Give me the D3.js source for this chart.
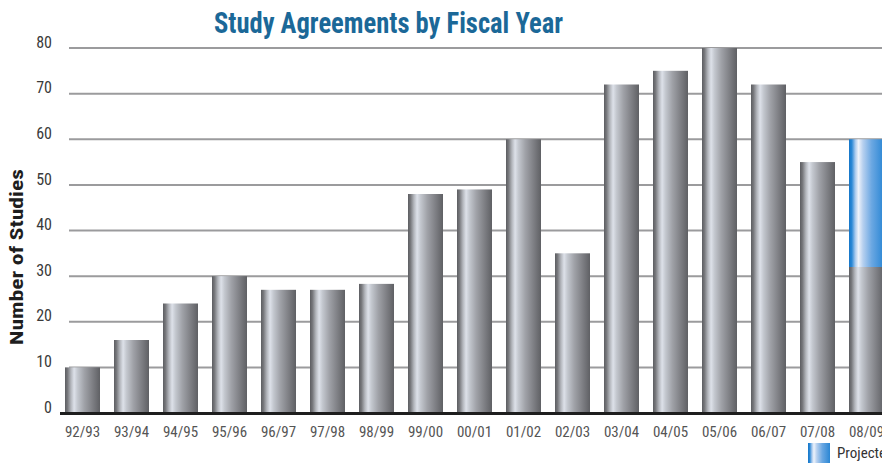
<!DOCTYPE html>
<html>
<head>
<meta charset="utf-8">
<script src="https://cdn.jsdelivr.net/npm/d3@7"></script>
<style>
  html, body { margin: 0; padding: 0; background: #fff; overflow: hidden; }
  svg { display: block; }
</style>
</head>
<body>
<svg id="chart" width="882" height="463"></svg>
<script>
// Fiscal years and study agreement counts
const fiscalYears = ["92/93","93/94","94/95","95/96","96/97","97/98","98/99","99/00","00/01",
                     "01/02","02/03","03/04","04/05","05/06","06/07","07/08","08/09"];
const completed   = [10, 16, 24, 30, 27, 27, 28.3, 48, 49, 60, 35, 72, 75, 80, 72, 55, 32];
const projected   = [0, 0, 0, 0, 0, 0, 0, 0, 0, 0, 0, 0, 0, 0, 0, 0, 28];
const yTicks      = [0, 10, 20, 30, 40, 50, 60, 70, 80];

const condensed = "'Liberation Sans Narrow', 'Arial Narrow', 'Roboto Condensed', 'Liberation Sans', sans-serif";

const svg = d3.select("#chart");
const W = 882, H = 463;

const x = d3.scaleBand()
  .domain(fiscalYears)
  .range([58, 58 + 17 * 49])
  .paddingInner(14 / 49)
  .paddingOuter(7 / 49);

const y = d3.scaleLinear().domain([0, 80]).range([413, 48]);

// Cylinder-style gradients
const defs = svg.append("defs");
function cylinder(id, stops) {
  const g = defs.append("linearGradient").attr("id", id)
    .attr("x1", "0%").attr("x2", "100%").attr("y1", "0%").attr("y2", "0%");
  stops.forEach(([o, c]) => g.append("stop").attr("offset", o).attr("stop-color", c));
}
cylinder("gray", [["0%","#5c5d61"],["7%","#76777b"],["17%","#b4b7bd"],["26%","#dde1e9"],
                  ["36%","#c3c7ce"],["55%","#a0a2a8"],["78%","#7f8085"],["100%","#5f6064"]]);
cylinder("blue", [["0%","#1576c8"],["8%","#2a88d6"],["18%","#a9caee"],["27%","#eef3fb"],
                  ["40%","#b6d0ef"],["65%","#6aa7e2"],["100%","#2a86d4"]]);

// Gridlines
svg.append("g").selectAll("line")
  .data(yTicks.filter(d => d > 0))
  .join("line")
  .attr("x1", 69).attr("x2", W)
  .attr("y1", d => y(d)).attr("y2", d => y(d))
  .attr("stroke", "#9b9b9d").attr("stroke-width", 2);

// Y tick labels
const yAxis = d3.axisLeft(y).tickValues(yTicks).tickSize(0).tickPadding(0);
const gy = svg.append("g").attr("transform", "translate(52,0)").call(yAxis);
gy.select(".domain").remove();
gy.selectAll("text")
  .attr("font-family", condensed).attr("font-size", 16).attr("font-weight", 400)
  .attr("fill", "#3a3a3a").attr("dy", "-0.05em");

// Bars: completed portion
svg.append("g").selectAll("rect")
  .data(fiscalYears.map((k, i) => ({ k, v: completed[i] })))
  .join("rect")
  .attr("x", d => x(d.k)).attr("width", x.bandwidth())
  .attr("y", d => y(d.v)).attr("height", d => y(0) - y(d.v))
  .attr("fill", "url(#gray)");

// Bars: projected portion stacked on top
svg.append("g").selectAll("rect")
  .data(fiscalYears.map((k, i) => ({ k, base: completed[i], v: projected[i] })).filter(d => d.v > 0))
  .join("rect")
  .attr("x", d => x(d.k)).attr("width", x.bandwidth())
  .attr("y", d => y(d.base + d.v)).attr("height", d => y(d.base) - y(d.base + d.v))
  .attr("fill", "url(#blue)");

// Baseline
svg.append("line")
  .attr("x1", 60).attr("x2", W).attr("y1", y(0) + 0.5).attr("y2", y(0) + 0.5)
  .attr("stroke", "#1e1e1e").attr("stroke-width", 3);

// X axis labels
const xAxis = d3.axisBottom(x).tickSize(0).tickPadding(0);
const gx = svg.append("g").attr("transform", `translate(0,${y(0)})`).call(xAxis);
gx.select(".domain").remove();
gx.selectAll("text")
  .attr("font-family", condensed).attr("font-size", 15).attr("font-weight", 400)
  .attr("fill", "#555").attr("y", 13).attr("dy", "0.71em");

// Title
svg.append("text")
  .attr("x", 214).attr("y", 33)
  .attr("textLength", 349).attr("lengthAdjust", "spacingAndGlyphs")
  .attr("font-family", condensed).attr("font-weight", "bold").attr("font-size", 29)
  .attr("fill", "#1b6898")
  .text("Study Agreements by Fiscal Year");

// Y axis title
svg.append("text")
  .attr("transform", "translate(23,345) rotate(-90)")
  .attr("textLength", 176).attr("lengthAdjust", "spacingAndGlyphs")
  .attr("font-family", condensed).attr("font-weight", "bold")
  .attr("font-size", 19).attr("fill", "#1e1e1e")
  .text("Number of Studies");

// Legend
const legend = svg.append("g");
legend.append("rect")
  .attr("x", 808).attr("y", 443).attr("width", 22).attr("height", 22)
  .attr("fill", "url(#blue)");
legend.append("text")
  .attr("x", 837).attr("y", 458)
  .attr("font-family", condensed).attr("font-size", 15).attr("fill", "#333")
  .text("Projected");
</script>
</body>
</html>
